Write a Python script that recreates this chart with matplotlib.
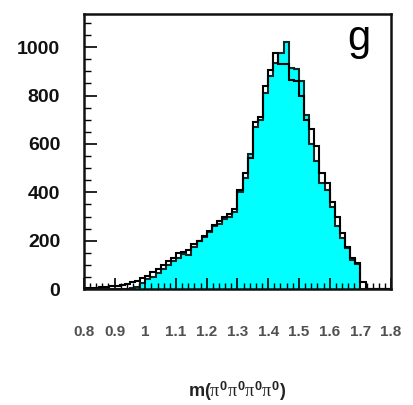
import numpy as np
import matplotlib
matplotlib.use("Agg")
import matplotlib.pyplot as plt
from matplotlib.ticker import MultipleLocator

# bin edges of the histograms (60 bins over 0.8 - 1.8)
edges = np.linspace(0.8, 1.8, 61)

# outline (open) histogram
outline_vals = [3, 5, 3, 8, 8, 12, 15, 18, 20, 28,
                35, 45, 55, 70, 85, 100, 115, 130, 150, 155,
                160, 185, 200, 220, 240, 265, 280, 300, 310, 330,
                410, 480, 540, 690, 710, 840, 905, 975, 930, 930,
                865, 860, 800, 700, 660, 590, 480, 440, 360, 300,
                230, 175, 130, 110, 30, 0, 0, 0, 0, 0]

# filled (cyan) histogram
filled_vals = [0, 0, 0, 0, 0, 0, 0, 0, 0, 5,
               10, 25, 40, 50, 65, 85, 100, 115, 130, 145,
               140, 175, 200, 215, 235, 260, 270, 290, 300, 320,
               400, 460, 560, 670, 700, 810, 880, 935, 975, 1020,
               915, 910, 860, 720, 600, 530, 440, 410, 340, 260,
               210, 170, 120, 105, 0, 0, 0, 0, 0, 0]

xticks = [0.8, 0.9, 1.0, 1.1, 1.2, 1.3, 1.4, 1.5, 1.6, 1.7, 1.8]
xticklabels = ["0.8", "0.9", "1", "1.1", "1.2", "1.3", "1.4", "1.5", "1.6", "1.7", "1.8"]
yticks = [0, 200, 400, 600, 800, 1000]

plt.rcParams["mathtext.fontset"] = "custom"
plt.rcParams["mathtext.rm"] = "Liberation Sans:bold"
plt.rcParams["mathtext.it"] = "Liberation Serif"
plt.rcParams["mathtext.bf"] = "Liberation Sans:bold"

fig = plt.figure(figsize=(4.13, 4.05), dpi=100)
ax = fig.add_axes([0.203, 0.286, 0.744, 0.679])

ax.stairs(filled_vals, edges, fill=True, facecolor="#00FFFF", edgecolor="none")
ax.stairs(filled_vals, edges, fill=False, edgecolor="#102828", linewidth=1.5)
ax.stairs(outline_vals, edges, fill=False, edgecolor="black", linewidth=1.5)

ax.set_xlim(0.8, 1.8)
ax.set_ylim(0, 1136)

for s in ax.spines.values():
    s.set_linewidth(1.8)
    s.set_color("#111111")

ax.set_xticks(xticks)
ax.set_xticklabels(xticklabels, fontsize=11, fontweight="bold", color="#505050",
                   family="Liberation Sans")
ax.xaxis.set_minor_locator(MultipleLocator(0.02))
ax.set_yticks(yticks)
ax.set_yticklabels([str(v) for v in yticks], fontsize=14, fontweight="bold",
                   family="Liberation Sans", color="#111111")
ax.yaxis.set_minor_locator(MultipleLocator(50))

ax.tick_params(axis="x", which="major", direction="in", length=8, width=1.2, pad=26,
               top=False)
ax.tick_params(axis="x", which="minor", direction="in", length=4, width=1.0, top=False)
ax.tick_params(axis="y", which="major", direction="in", length=9, width=1.2, pad=17,
               right=False)
ax.tick_params(axis="y", which="minor", direction="in", length=5, width=1.0, right=False)

ax.set_xlabel(r"m($\pi^{0}\pi^{0}\pi^{0}\pi^{0}$)", fontsize=13, fontweight="bold",
              family="Liberation Sans", labelpad=29, color="#222222")

ax.text(0.895, 0.91, "g", transform=ax.transAxes, fontsize=30, ha="center", va="center",
        family="Liberation Sans")

fig.savefig("out.png", dpi=100)
